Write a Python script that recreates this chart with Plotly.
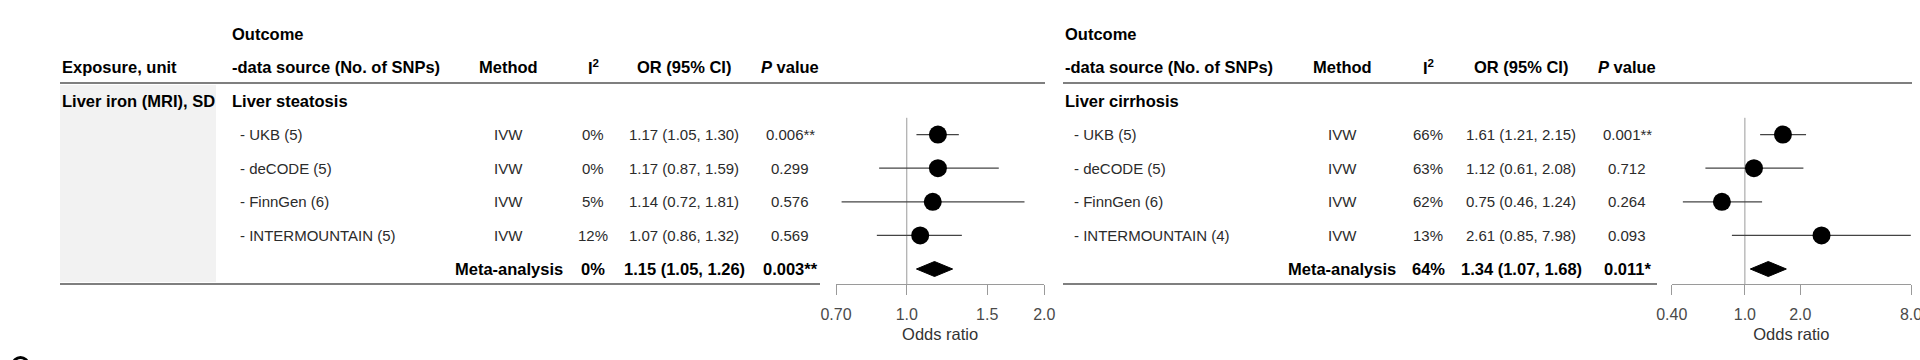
import math
import plotly.graph_objects as go

W, H = 1920, 360

# ---------------- data ----------------
exposure = "Liver iron (MRI), SD"

outcome_L = "Liver steatosis"
sources_L = ["- UKB (5)", "- deCODE (5)", "- FinnGen (6)", "- INTERMOUNTAIN (5)"]
method_L = ["IVW", "IVW", "IVW", "IVW"]
i2_L = ["0%", "0%", "5%", "12%"]
or_L = [1.17, 1.17, 1.14, 1.07]
lo_L = [1.05, 0.87, 0.72, 0.86]
hi_L = [1.30, 1.59, 1.81, 1.32]
p_L = ["0.006**", "0.299", "0.576", "0.569"]
meta_i2_L = "0%"
meta_or_L, meta_lo_L, meta_hi_L = 1.15, 1.05, 1.26
meta_p_L = "0.003**"
ticks_L = [0.7, 1.0, 1.5, 2.0]
ticktext_L = ["0.70", "1.0", "1.5", "2.0"]

outcome_R = "Liver cirrhosis"
sources_R = ["- UKB (5)", "- deCODE (5)", "- FinnGen (6)", "- INTERMOUNTAIN (4)"]
method_R = ["IVW", "IVW", "IVW", "IVW"]
i2_R = ["66%", "63%", "62%", "13%"]
or_R = [1.61, 1.12, 0.75, 2.61]
lo_R = [1.21, 0.61, 0.46, 0.85]
hi_R = [2.15, 2.08, 1.24, 7.98]
p_R = ["0.001**", "0.712", "0.264", "0.093"]
meta_i2_R = "64%"
meta_or_R, meta_lo_R, meta_hi_R = 1.34, 1.07, 1.68
meta_p_R = "0.011*"
ticks_R = [0.4, 1.0, 2.0, 8.0]
ticktext_R = ["0.40", "1.0", "2.0", "8.0"]

null_value = 1.0

# ---------------- layout geometry (pixels) ----------------
ROW0 = 101.0        # pixel centre of first body row
PITCH = 33.6        # row pitch
AXIS_Y = 284.0      # pixel of the forest x-axis line / bottom rule


def row_of(py):
    return (py - ROW0) / PITCH


def PX(px):
    return px / W


def PY(py):
    return 1 - py / H


REG = "Liberation Sans, Arial, sans-serif"
FS_REG = 15
FS_BOLD = 16.5
C_REG = "#2b2b2b"
C_BOLD = "#000000"

panels = [
    dict(xa="x", xaxis="xaxis", outcome=outcome_L, sources=sources_L, method=method_L, i2=i2_L,
         orv=or_L, lo=lo_L, hi=hi_L, p=p_L, meta_i2=meta_i2_L, meta=(meta_or_L, meta_lo_L, meta_hi_L),
         meta_p=meta_p_L, ticks=ticks_L, ticktext=ticktext_L,
         out_x=230, src_x=238, meth_cx=509, i2_cx=593, or_cx=684, p_cx=790,
         ax0=836.0, ax1=1044.3, rule_top=(60, 1045), rule_bot=(60, 820)),
    dict(xa="x2", xaxis="xaxis2", outcome=outcome_R, sources=sources_R, method=method_R, i2=i2_R,
         orv=or_R, lo=lo_R, hi=hi_R, p=p_R, meta_i2=meta_i2_R, meta=(meta_or_R, meta_lo_R, meta_hi_R),
         meta_p=meta_p_R, ticks=ticks_R, ticktext=ticktext_R,
         out_x=1063, src_x=1072, meth_cx=1342, i2_cx=1428, or_cx=1521, p_cx=1627,
         ax0=1671.7, ax1=1911.0, rule_top=(1063, 1912), rule_bot=(1063, 1657)),
]

fig = go.Figure()
annotations = []
shapes = []


def txt(x_px, row, text, bold=False, anchor="left"):
    annotations.append(dict(
        x=PX(x_px), xref="paper", y=row, yref="y", text=("<b>%s</b>" % text) if bold else text,
        showarrow=False, xanchor=anchor, yanchor="middle",
        font=dict(family=REG, size=FS_BOLD if bold else FS_REG, color=C_BOLD if bold else C_REG)))


# grey exposure box
shapes.append(dict(type="rect", xref="paper", yref="paper", x0=PX(60), x1=PX(216),
                   y0=PY(282), y1=PY(85), fillcolor="#f2f2f2", line=dict(width=0), layer="below"))

# exposure column
txt(60, -1, "Exposure, unit", bold=True)
txt(60, 0, exposure, bold=True)

for pn in panels:
    # headers
    txt(pn["out_x"], -2, "Outcome", bold=True)
    txt(pn["out_x"], -1, "-data source (No. of SNPs)", bold=True)
    txt(pn["meth_cx"], -1, "Method", bold=True, anchor="center")
    txt(pn["i2_cx"], -1, "I<sup>2</sup>", bold=True, anchor="center")
    txt(pn["or_cx"], -1, "OR (95% CI)", bold=True, anchor="center")
    txt(pn["p_cx"], -1, "<i>P</i> value", bold=True, anchor="center")
    txt(pn["out_x"], 0, pn["outcome"], bold=True)
    rows = list(range(1, len(pn["sources"]) + 1))
    for r, s, m, i2, o, l, h, p in zip(rows, pn["sources"], pn["method"], pn["i2"],
                                       pn["orv"], pn["lo"], pn["hi"], pn["p"]):
        txt(pn["src_x"], r, s)
        txt(pn["meth_cx"], r, m, anchor="center")
        txt(pn["i2_cx"], r, i2, anchor="center")
        txt(pn["or_cx"], r, "%.2f (%.2f, %.2f)" % (o, l, h), anchor="center")
        txt(pn["p_cx"], r, p, anchor="center")
    mr = len(rows) + 1
    mo, ml, mh = pn["meta"]
    txt(pn["meth_cx"], mr, "Meta-analysis", bold=True, anchor="center")
    txt(pn["i2_cx"], mr, pn["meta_i2"], bold=True, anchor="center")
    txt(pn["or_cx"], mr, "%.2f (%.2f, %.2f)" % (mo, ml, mh), bold=True, anchor="center")
    txt(pn["p_cx"], mr, pn["meta_p"], bold=True, anchor="center")

    # rules
    shapes.append(dict(type="line", xref="paper", yref="paper", x0=PX(pn["rule_top"][0]),
                       x1=PX(pn["rule_top"][1]), y0=PY(83), y1=PY(83),
                       line=dict(color="#555555", width=1.6)))
    shapes.append(dict(type="line", xref="paper", yref="paper", x0=PX(pn["rule_bot"][0]),
                       x1=PX(pn["rule_bot"][1]), y0=PY(AXIS_Y), y1=PY(AXIS_Y),
                       line=dict(color="#555555", width=1.6)))
    # null line
    shapes.append(dict(type="line", xref=pn["xa"], yref="y", x0=null_value, x1=null_value,
                       y0=0.5, y1=row_of(AXIS_Y), line=dict(color="#9a9a9a", width=1), layer="below"))

    # study estimates with CIs
    fig.add_trace(go.Scatter(
        x=pn["orv"], y=rows, xaxis=pn["xa"], yaxis="y", mode="markers",
        marker=dict(size=18, color="black", symbol="circle"),
        error_x=dict(type="data", symmetric=False,
                     array=[h - o for o, h in zip(pn["orv"], pn["hi"])],
                     arrayminus=[o - l for o, l in zip(pn["orv"], pn["lo"])],
                     color="#444444", thickness=1.2, width=0),
        hoverinfo="skip", showlegend=False))
    # pooled diamond
    d = 7.5 / PITCH
    fig.add_trace(go.Scatter(
        x=[ml, mo, mh, mo, ml], y=[mr, mr - d, mr, mr + d, mr], xaxis=pn["xa"], yaxis="y",
        mode="lines", fill="toself", fillcolor="black", line=dict(color="black", width=1),
        hoverinfo="skip", showlegend=False))

# partial panel marker at bottom-left edge
shapes.append(dict(type="circle", xref="paper", yref="paper", x0=PX(13), x1=PX(28),
                   y0=PY(372), y1=PY(357.5), line=dict(color="black", width=3)))

axis_common = dict(
    type="log", anchor="y", showline=True, linecolor="#9a9a9a", linewidth=1,
    ticks="outside", ticklen=10, tickcolor="#9a9a9a", tickwidth=1,
    tickfont=dict(family=REG, size=16, color="#4a4a4a"), showgrid=False, zeroline=False,
    automargin=False, ticklabelstandoff=6, ticklabeloverflow="allow",
    title=dict(text="Odds ratio", font=dict(family=REG, size=16.5, color="#333333"), standoff=6),
)

layout = dict(
    width=W, height=H, margin=dict(l=0, r=0, t=0, b=0), template="none",
    paper_bgcolor="white", plot_bgcolor="rgba(0,0,0,0)", showlegend=False,
    annotations=annotations, shapes=shapes, hovermode=False,
    yaxis=dict(domain=[1 - AXIS_Y / H, 1], range=[row_of(AXIS_Y), row_of(0)], visible=False,
               automargin=False, fixedrange=True),
)
for pn in panels:
    ax = dict(axis_common)
    ax.update(domain=[PX(pn["ax0"]), PX(pn["ax1"])],
              range=[math.log10(pn["ticks"][0]), math.log10(pn["ticks"][-1])],
              tickvals=pn["ticks"], ticktext=pn["ticktext"], fixedrange=True)
    layout[pn["xaxis"]] = ax

fig.update_layout(**layout)
fig.write_html(
    "out.html",
    config={"displayModeBar": False, "staticPlot": True},
    post_script="document.body.style.margin='0';document.body.style.overflow='hidden';",
)
